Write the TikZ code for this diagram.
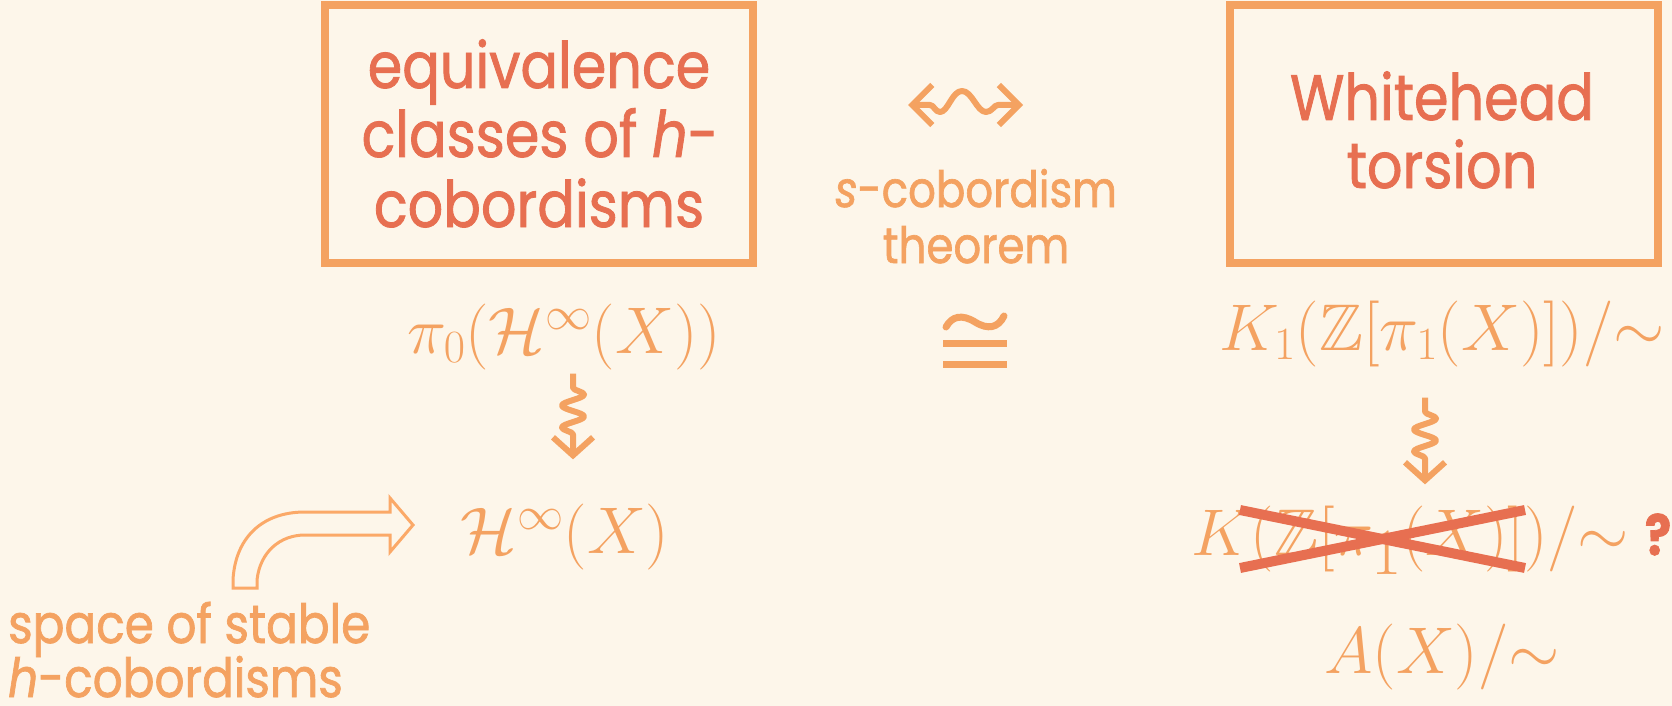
\RequirePackage{fix-cm}
\documentclass[tikz,border=0pt]{standalone}
\usepackage{fontspec}
\usepackage{amssymb}
\usetikzlibrary{arrows.meta,decorations.pathmorphing}
\newfontfamily\pop[FakeStretch=0.87,FakeBold=1.3]{Poppins}
\definecolor{bg}{HTML}{FDF6EA}
\definecolor{org}{HTML}{F4A261}
\definecolor{tred}{HTML}{E76F51}
\definecolor{hollow}{HTML}{FBA968}
\begin{document}
\begin{tikzpicture}[x=1pt,y=-1pt,
  titletext/.style={font=\pop\fontsize{64}{70}\selectfont, text=tred, inner sep=0pt, anchor=base},
  midtext/.style={font=\pop\fontsize{50}{56}\selectfont, text=org, inner sep=0pt, anchor=base},
  smalltext/.style={font=\pop\fontsize{54}{56}\selectfont, text=org, inner sep=0pt, anchor=base west},
  mth/.style={font=\fontsize{66}{70}\selectfont, text=org, inner sep=0pt, anchor=base},
  framebox/.style={draw=org, line width=8pt, minimum width=428pt, minimum height=258pt, inner sep=0pt},
  sq/.style={draw=org, line width=6pt, line join=round, decorate,
    decoration={snake, amplitude=11pt, segment length=22pt, pre length=14pt, post length=22pt},
    -{Straight Barb[length=18pt,width=40pt]}},
  wav/.style={draw=org, line width=6pt, line join=round, {Straight Barb[length=20pt,width=40pt]}-{Straight Barb[length=20pt,width=40pt]}},
  crossline/.style={draw=tred, line width=10pt},
  thin/.style={draw=org, line width=7pt}
]
\useasboundingbox[fill=bg] (0,0) rectangle (1672,706);

% boxes
\node[framebox] (lbox) at (539,134) {};
\node[framebox] (rbox) at (1444,134) {};

\node[titletext] (l1) at (539,88) {equivalence};
\node[titletext] (l2) at (540,157) {classes of \textit{h}-};
\node[titletext] (l3) at (539,227) {cobordisms};
\node[titletext] (r1) at (1442,120) {Whitehead};
\node[titletext] (r2) at (1442,188) {torsion};

% middle
\draw[wav] (908,105) -- (930,105) .. controls (934,105) and (935,112) .. (940,112)
  .. controls (948,112) and (952,91) .. (962,91)
  .. controls (972,91) and (977,112) .. (986,112)
  .. controls (992,112) and (994,105) .. (998,105) -- (1023,105);
\node[midtext] (s1) at (976,207) {\textit{s}-cobordism};
\node[midtext] (s2) at (976,263) {theorem};

% congruence sign
\draw[thin, line cap=round] (946,327) .. controls (952,316) and (962,314) .. (975,322)
  .. controls (988,330) and (998,328) .. (1004,316);
\draw[thin] (943,343) -- (1007,343);
\draw[thin] (943,364) -- (1007,364);

% math
\node[mth] (pi0) at (564,353) {$\pi_0(\mathcal{H}^\infty(X))$};
\node[mth] (Hinf) at (565,553) {$\mathcal{H}^\infty(X)$};
\node[mth] (K1) at (1442,350) {$K_1(\mathbb{Z}[\pi_1(X)])/{\sim}$};
\node[mth] (K) at (1410,555) {$K(\mathbb{Z}[\pi_{\textstyle 1}(X)])/{\sim}$};
\node[font=\pop\bfseries\fontsize{56}{60}\selectfont, text=tred, inner sep=0pt, anchor=base] (qm) at (1658,555) {?};
\node[mth] (AX) at (1442,673) {$A(X)/{\sim}$};

% squiggly arrows
\draw[sq] ([xshift=9pt,yshift=-4pt]pi0.south) -- ([xshift=8pt,yshift=44pt]Hinf.north);
\draw[sq] ([xshift=-17pt,yshift=-31pt]K1.south) -- ([xshift=15pt,yshift=21pt]K.north);

% cross
\draw[crossline] (1240,510) -- (1525,568);
\draw[crossline] (1240,568) -- (1525,510);

% hollow arrow
\draw[draw=hollow, line width=3pt, fill=bg, line join=miter]
  (233,588) -- (233,580) .. controls (235,540) and (260,512) .. (305,512)
  -- (390,512) -- (390,498) -- (413,525) -- (390,552) -- (390,535) -- (305,535)
  .. controls (280,535) and (260,552) .. (257,580) -- (257,588) -- cycle;

\node[smalltext] (sp1) at (8,643) {space of stable};
\node[smalltext] (sp2) at (8,697) {\textit{h}-cobordisms};
\end{tikzpicture}
\end{document}
